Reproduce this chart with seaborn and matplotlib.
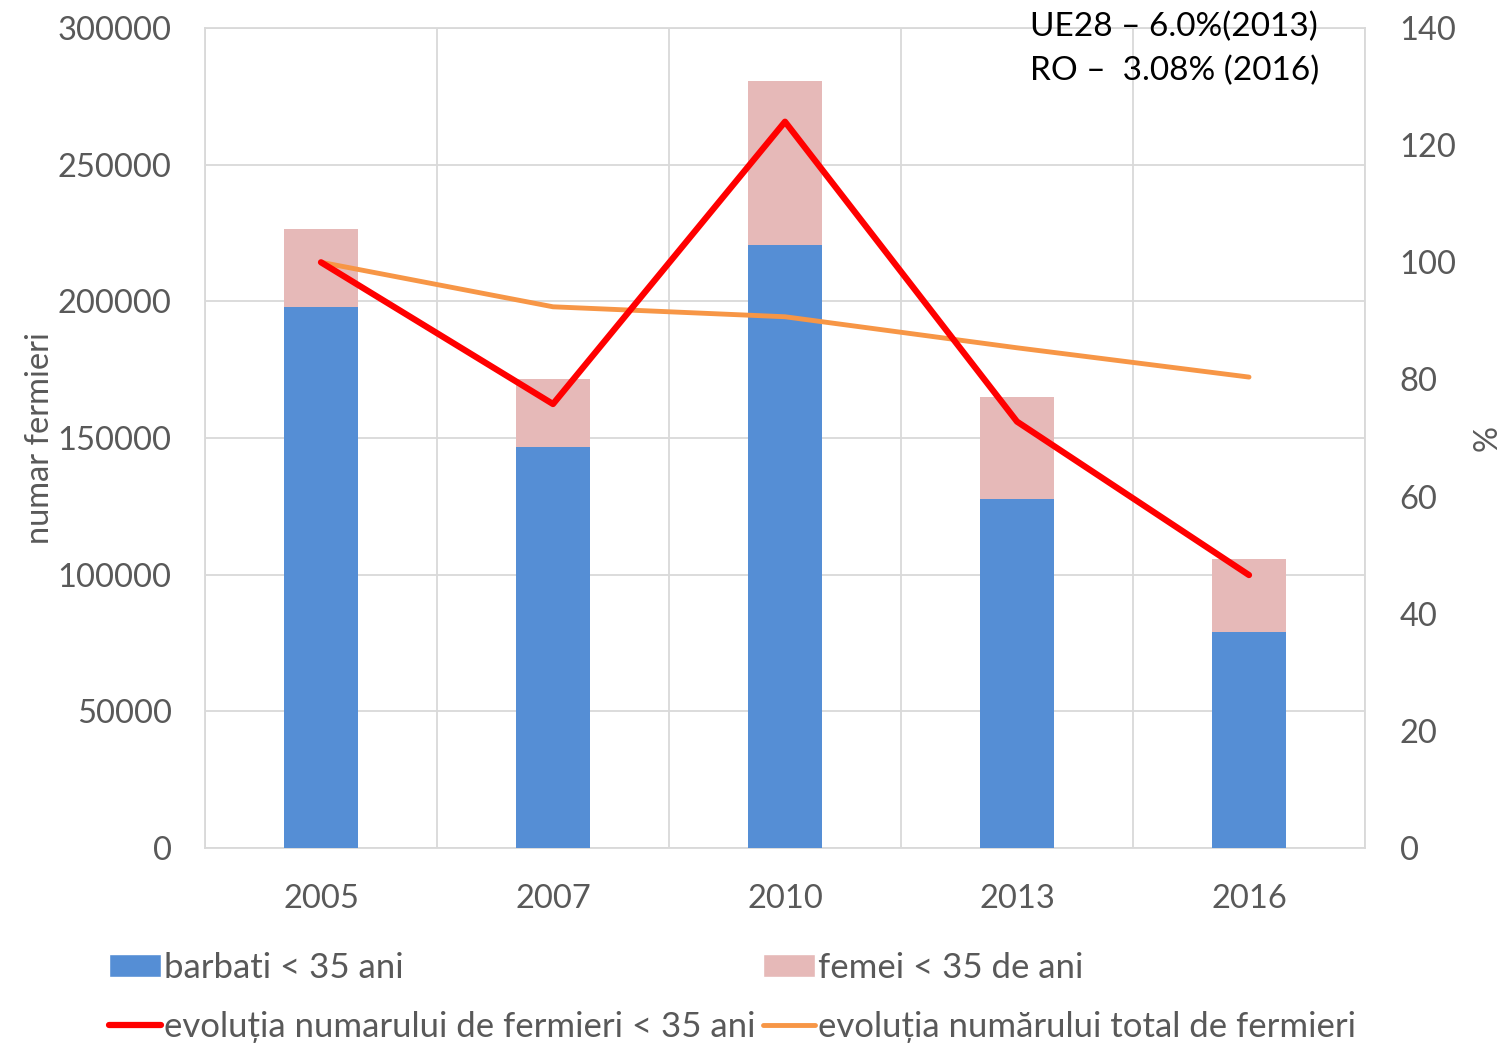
import seaborn as sns
import pandas as pd
import numpy as np
import matplotlib.pyplot as plt
from matplotlib.patches import Patch
from matplotlib.lines import Line2D

# values
years = ['2005', '2007', '2010', '2013', '2016']
barbati = [198000, 146700, 220600, 127700, 79000]
femei = [28500, 24900, 60000, 37300, 26700]
evol_tineri = [100, 75.8, 124, 72.8, 46.6]
evol_total = [100, 92.4, 90.7, 85.4, 80.4]

data = pd.DataFrame({'an': years, 'barbati': barbati, 'femei': femei})
data['total'] = data['barbati'] + data['femei']
data['pos'] = np.arange(len(years))
data['evol_tineri'] = evol_tineri
data['evol_total'] = evol_total

sns.set_style('white')
plt.rcParams['font.family'] = ['Lato', 'DejaVu Sans']

grey = '#595959'
gridc = '#D9D9D9'
blue = '#558ED5'
pink = '#E6B9B8'
red = '#FF0000'
orange = '#F79646'
fs = 23.5

fig = plt.figure(figsize=(15.04, 10.44), dpi=100)
ax = fig.add_axes([205 / 1504, 196 / 1044, 1160 / 1504, 820 / 1044])

# stacked bars: total (pink) behind, men (blue) in front
sns.barplot(x='an', y='total', data=data, color=pink, width=0.32, saturation=1,
            linewidth=0, ax=ax, zorder=2)
sns.barplot(x='an', y='barbati', data=data, color=blue, width=0.32, saturation=1,
            linewidth=0, ax=ax, zorder=3)

ax.set_xlim(-0.5, 4.5)
ax.set_ylim(0, 300000)
ax.set_yticks(np.arange(0, 300001, 50000))
ax.set_xticks(np.arange(-0.5, 5, 1), minor=True)
ax.grid(True, axis='y', color=gridc, lw=1.3, zorder=0)
ax.grid(True, axis='x', which='minor', color=gridc, lw=1.3, zorder=0)
ax.set_axisbelow(True)
ax.tick_params(axis='both', which='both', length=0, labelsize=fs, colors=grey, pad=24)
ax.tick_params(axis='x', pad=26)
ax.set_xlabel('')
ax.set_ylabel('numar fermieri', fontsize=fs, color=grey)
ax.yaxis.set_label_coords(-150 / 1160, 0.5)
for s in ax.spines.values():
    s.set_color(gridc)
    s.set_linewidth(1.3)

ax2 = ax.twinx()
sns.lineplot(x='pos', y='evol_tineri', data=data, color=red, lw=4.5, ax=ax2, zorder=5)
sns.lineplot(x='pos', y='evol_total', data=data, color=orange, lw=3.5, ax=ax2, zorder=4)
ax2.set_ylim(0, 140)
ax2.set_yticks(np.arange(0, 141, 20))
ax2.set_xlim(-0.5, 4.5)
ax2.tick_params(axis='y', length=0, labelsize=fs, colors=grey, pad=25)
ax2.set_ylabel('%', fontsize=fs, color=grey, rotation=90)
ax2.yaxis.set_label_coords(1 + 108 / 1160, 0.5)
for s in ax2.spines.values():
    s.set_visible(False)

fig.text(1030 / 1504, 1 - 12 / 1044, 'UE28 – 6.0%(2013)\nRO –  3.08% (2016)',
         fontsize=24, color='black', va='top', ha='left', linespacing=1.55)

handles = [Patch(facecolor=blue), Line2D([], [], color=red, lw=4.5),
           Patch(facecolor=pink), Line2D([], [], color=orange, lw=3.5)]
labels = ['barbati < 35 ani', 'evoluția numarului de fermieri < 35 ani',
          'femei < 35 de ani', 'evoluția numărului total de fermieri']
leg = fig.legend(handles, labels, ncol=2, loc='lower left', bbox_to_anchor=(92 / 1504, -0.016),
                 frameon=False, fontsize=25, handlelength=1.5, handleheight=0.65,
                 handletextpad=0.08, columnspacing=0.2, labelspacing=0.8, borderaxespad=0.1)
for t in leg.get_texts():
    t.set_color(grey)

fig.savefig('out.png', dpi=100)
